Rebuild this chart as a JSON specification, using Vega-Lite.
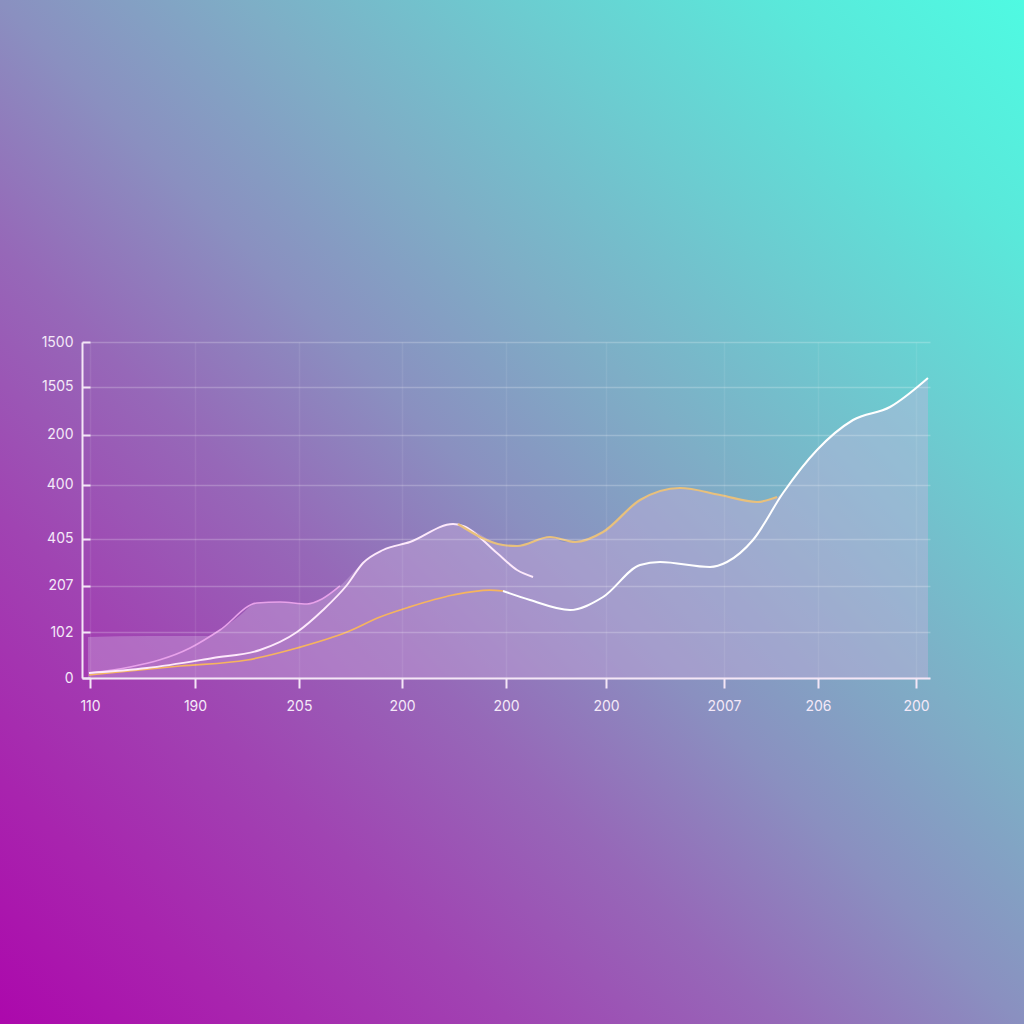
{
  "$schema": "https://vega.github.io/schema/vega-lite/v6.json",
  "width": 848,
  "height": 336,
  "autosize": {"type": "none"},
  "padding": {"left": 82, "top": 342, "right": 94, "bottom": 346},
  "background": "#8a90c0",
  "config": {"view": {"stroke": null}, "font": "Inter"},
  "datasets": {
    "bg": [{"x0": 0, "x1": 1, "y0": 0, "y1": 1}],
    "envelope": [
      {"x": -0.02, "y": 0.854}, {"x": 0.581, "y": 0.875}, {"x": 1.143, "y": 0.875},
      {"x": 1.259, "y": 1.0}, {"x": 1.433, "y": 1.271}, {"x": 1.617, "y": 1.5625},
      {"x": 1.84, "y": 1.583}, {"x": 2.102, "y": 1.542}, {"x": 2.247, "y": 1.646},
      {"x": 2.421, "y": 1.917}, {"x": 2.644, "y": 2.396}, {"x": 2.838, "y": 2.667},
      {"x": 3.099, "y": 2.833}, {"x": 3.516, "y": 3.208}, {"x": 3.613, "y": 3.167},
      {"x": 4.0, "y": 2.771}, {"x": 4.136, "y": 2.75}, {"x": 4.455, "y": 2.9375},
      {"x": 4.6, "y": 2.833}, {"x": 4.969, "y": 3.042}, {"x": 5.327, "y": 3.708},
      {"x": 5.714, "y": 3.958}, {"x": 6.102, "y": 3.8125}, {"x": 6.46, "y": 3.667},
      {"x": 6.654, "y": 3.771}, {"x": 6.877, "y": 4.292}, {"x": 7.041, "y": 4.75},
      {"x": 7.39, "y": 5.375}, {"x": 7.748, "y": 5.646}, {"x": 8.116, "y": 6.25}
    ],
    "lines": [
      {"s": "pink", "x": -0.01, "y": 0.104}, {"s": "pink", "x": 0.387, "y": 0.229},
      {"s": "pink", "x": 0.969, "y": 0.625}, {"s": "pink", "x": 1.259, "y": 1.0},
      {"s": "pink", "x": 1.617, "y": 1.5625}, {"s": "pink", "x": 1.84, "y": 1.583},
      {"s": "pink", "x": 2.102, "y": 1.542}, {"s": "pink", "x": 2.247, "y": 1.646},
      {"s": "pink", "x": 2.421, "y": 1.917},
      {"s": "o1", "x": -0.01, "y": 0.0625}, {"s": "o1", "x": 0.872, "y": 0.25},
      {"s": "o1", "x": 1.521, "y": 0.375}, {"s": "o1", "x": 2.005, "y": 0.625},
      {"s": "o1", "x": 2.489, "y": 0.958}, {"s": "o1", "x": 2.809, "y": 1.271},
      {"s": "o1", "x": 3.08, "y": 1.469}, {"s": "o1", "x": 3.516, "y": 1.729},
      {"s": "o1", "x": 3.87, "y": 1.833}, {"s": "o1", "x": 4.0, "y": 1.8125},
      {"s": "w1", "x": -0.01, "y": 0.104}, {"s": "w1", "x": 0.552, "y": 0.208},
      {"s": "w1", "x": 1.191, "y": 0.417}, {"s": "w1", "x": 1.646, "y": 0.583},
      {"s": "w1", "x": 2.005, "y": 0.958}, {"s": "w1", "x": 2.257, "y": 1.417},
      {"s": "w1", "x": 2.489, "y": 1.9375}, {"s": "w1", "x": 2.644, "y": 2.396},
      {"s": "w1", "x": 2.838, "y": 2.667}, {"s": "w1", "x": 3.099, "y": 2.833},
      {"s": "w1", "x": 3.516, "y": 3.208}, {"s": "w1", "x": 3.613, "y": 3.167},
      {"s": "w1", "x": 3.942, "y": 2.604}, {"s": "w1", "x": 4.136, "y": 2.25},
      {"s": "w1", "x": 4.291, "y": 2.104},
      {"s": "w2", "x": 4.0, "y": 1.8125}, {"s": "w2", "x": 4.262, "y": 1.625},
      {"s": "w2", "x": 4.649, "y": 1.417}, {"s": "w2", "x": 4.969, "y": 1.6875},
      {"s": "w2", "x": 5.327, "y": 2.354}, {"s": "w2", "x": 5.521, "y": 2.417},
      {"s": "w2", "x": 6.005, "y": 2.3125}, {"s": "w2", "x": 6.169, "y": 2.417},
      {"s": "w2", "x": 6.421, "y": 2.875}, {"s": "w2", "x": 6.712, "y": 3.854},
      {"s": "w2", "x": 7.041, "y": 4.75}, {"s": "w2", "x": 7.39, "y": 5.375},
      {"s": "w2", "x": 7.748, "y": 5.646}, {"s": "w2", "x": 8.116, "y": 6.25},
      {"s": "o2", "x": 3.564, "y": 3.208}, {"s": "o2", "x": 4.0, "y": 2.771},
      {"s": "o2", "x": 4.136, "y": 2.75}, {"s": "o2", "x": 4.455, "y": 2.9375},
      {"s": "o2", "x": 4.7, "y": 2.833}, {"s": "o2", "x": 4.969, "y": 3.042},
      {"s": "o2", "x": 5.327, "y": 3.708}, {"s": "o2", "x": 5.714, "y": 3.958},
      {"s": "o2", "x": 6.102, "y": 3.8125}, {"s": "o2", "x": 6.46, "y": 3.667},
      {"s": "o2", "x": 6.654, "y": 3.771}
    ]
  },
  "layer": [
    {
      "data": {"name": "bg"},
      "mark": {
        "type": "rect",
        "clip": false,
        "fill": {
          "gradient": "linear",
          "x1": 0, "y1": 1, "x2": 1, "y2": 0,
          "stops": [
            {"offset": 0, "color": "#ac08ac"},
            {"offset": 0.12, "color": "#a824ae"},
            {"offset": 0.25, "color": "#a044b2"},
            {"offset": 0.38, "color": "#9668b8"},
            {"offset": 0.5, "color": "#8a90c0"},
            {"offset": 0.62, "color": "#7eaec6"},
            {"offset": 0.75, "color": "#6cccd0"},
            {"offset": 0.88, "color": "#5ae8da"},
            {"offset": 1, "color": "#4ffae2"}
          ]
        }
      },
      "encoding": {
        "x": {"field": "x0", "type": "quantitative", "scale": {"domain": [0.080078, 0.908203], "nice": false, "zero": false}, "axis": null},
        "x2": {"field": "x1"},
        "y": {"field": "y0", "type": "quantitative", "scale": {"domain": [0.337891, 0.666016], "nice": false, "zero": false}, "axis": null},
        "y2": {"field": "y1"}
      }
    },
    {
      "encoding": {
        "x": {
          "field": "x", "type": "quantitative",
          "scale": {"domain": [-0.0775, 8.1356], "nice": false, "zero": false},
          "axis": {
            "orient": "bottom", "title": null, "zindex": 1,
            "values": [0, 1.017, 2.024, 3.022, 4.029, 4.998, 6.14, 7.051, 8],
            "labelExpr": "datum.value < 0.5 ? '110' : datum.value < 1.5 ? '190' : datum.value < 2.5 ? '205' : datum.value < 5.5 ? '200' : datum.value < 6.6 ? '2007' : datum.value < 7.5 ? '206' : '200'",
            "labelFlush": false, "labelOverlap": false, "labelBound": false,
            "labelColor": "#f4e9f8", "labelFontSize": 14, "labelPadding": 11,
            "domainColor": "#f4e6f6", "domainWidth": 2,
            "tickColor": "#f4e6f6", "tickWidth": 2, "tickSize": 10,
            "grid": true, "gridColor": "#ffffff", "gridOpacity": 0.08, "gridWidth": 1.5
          }
        },
        "y": {
          "field": "y", "type": "quantitative",
          "scale": {"domain": [0, 7], "nice": false, "zero": false},
          "axis": {
            "orient": "left", "title": null, "zindex": 1,
            "values": [0, 0.958, 1.917, 2.896, 4.021, 5.063, 6.063, 7],
            "labelExpr": "datum.value < 0.5 ? '0' : datum.value < 1.5 ? '102' : datum.value < 2.5 ? '207' : datum.value < 3.5 ? '405' : datum.value < 4.5 ? '400' : datum.value < 5.5 ? '200' : datum.value < 6.5 ? '1505' : '1500'",
            "labelFlush": false, "labelOverlap": false, "labelBound": false,
            "labelColor": "#f4e9f8", "labelFontSize": 14, "labelPadding": 17,
            "domainColor": "#f4e6f6", "domainWidth": 2,
            "tickColor": "#f4e6f6", "tickWidth": 2, "tickSize": -8,
            "grid": true, "gridColor": "#ffffff", "gridOpacity": 0.22, "gridWidth": 1.5
          }
        }
      },
      "layer": [
        {
          "data": {"name": "envelope"},
          "mark": {"type": "area", "interpolate": "monotone", "color": "#d0b0e0", "opacity": 0.38}
        },
        {
          "data": {"name": "lines"},
          "mark": {"type": "line", "interpolate": "monotone"},
          "encoding": {
            "color": {"field": "s", "type": "nominal", "legend": null,
              "scale": {"domain": ["pink", "o1", "w1", "w2", "o2"], "range": ["#e8a2ea", "#f6b45e", "#fde9fb", "#ffffff", "#e8c07c"]}},
            "size": {"field": "s", "type": "ordinal", "legend": null,
              "scale": {"domain": ["pink", "o1", "w1", "w2", "o2"], "range": [1.6, 2.2, 2, 2, 1.5]}}
          }
        }
      ]
    }
  ],
  "resolve": {"scale": {"x": "independent", "y": "independent"}}
}
